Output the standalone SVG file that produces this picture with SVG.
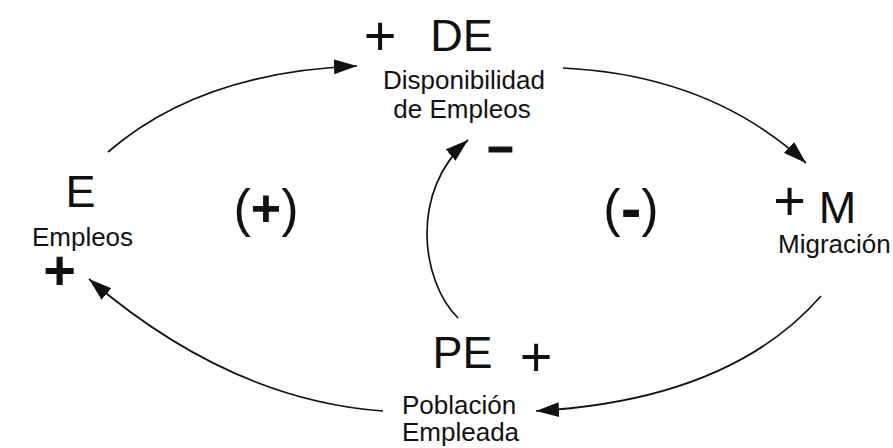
<svg xmlns="http://www.w3.org/2000/svg" width="893" height="448" viewBox="0 0 893 448">
  <defs>
    <style>
      text { font-family: "Liberation Sans", Arial, sans-serif; fill: #111; }
      .big { font-size: 45px; }
      .sub { font-size: 26px; }
      .sign { font-size: 56px; }
      .bold { font-weight: bold; }
      .loop { font-size: 52px; }
      .link { fill: none; stroke: #111; stroke-width: 1.7; }
    </style>
    <marker id="arrow" markerUnits="userSpaceOnUse" markerWidth="24" markerHeight="16" refX="23" refY="7.5" orient="auto">
      <path d="M0,0 L23,7.5 L0,15 Z" fill="#111"/>
    </marker>
  </defs>
  <rect width="893" height="448" fill="#ffffff"/>

  <g id="connectors">
    <path class="link" d="M108,152 Q200,72 357,66" marker-end="url(#arrow)"/>
    <path class="link" d="M563,68 Q710,75 806,163" marker-end="url(#arrow)"/>
    <path class="link" d="M821,296 Q730,400 536,411" marker-end="url(#arrow)"/>
    <path class="link" d="M383,411 Q230,400 89,279" marker-end="url(#arrow)"/>
    <path class="link" d="M458,318 C420,280 410,190 468,140" marker-end="url(#arrow)"/>
  </g>

  <g id="node-DE">
    <text class="big" x="461.5" y="51" text-anchor="middle">DE</text>
    <text class="sub" x="464" y="88.5" text-anchor="middle">Disponibilidad</text>
    <text class="sub" x="462" y="118" text-anchor="middle">de Empleos</text>
  </g>
  <g id="node-E">
    <text class="big" x="80.5" y="207" text-anchor="middle">E</text>
    <text class="sub" x="82.5" y="245.5" text-anchor="middle">Empleos</text>
  </g>
  <g id="node-M">
    <text class="big" x="837.5" y="223" text-anchor="middle">M</text>
    <text class="sub" x="778" y="253">Migración</text>
  </g>
  <g id="node-PE">
    <text class="big" x="462.5" y="368" text-anchor="middle">PE</text>
    <text class="sub" x="402" y="413.5">Población</text>
    <text class="sub" x="402" y="441">Empleada</text>
  </g>

  <g id="polarities">
    <text class="sign" x="380" y="55" text-anchor="middle">+</text>
    <text class="sign" x="789.5" y="220" text-anchor="middle">+</text>
    <text class="sign" x="536" y="376" text-anchor="middle">+</text>
    <text class="sign bold" x="59.5" y="288.5" text-anchor="middle">+</text>
    <text class="bold" transform="translate(500.5,159.5) scale(2.1,1)" x="0" y="0" text-anchor="middle" font-size="40" stroke="#111" stroke-width="1.2">-</text>
  </g>

  <g id="loops">
    <text class="loop" x="266" y="226" text-anchor="middle">(<tspan class="bold">+</tspan>)</text>
    <text class="loop" x="631" y="226" text-anchor="middle">(<tspan class="bold" font-size="62" dy="3">-</tspan><tspan dy="-3">)</tspan></text>
  </g>
</svg>
